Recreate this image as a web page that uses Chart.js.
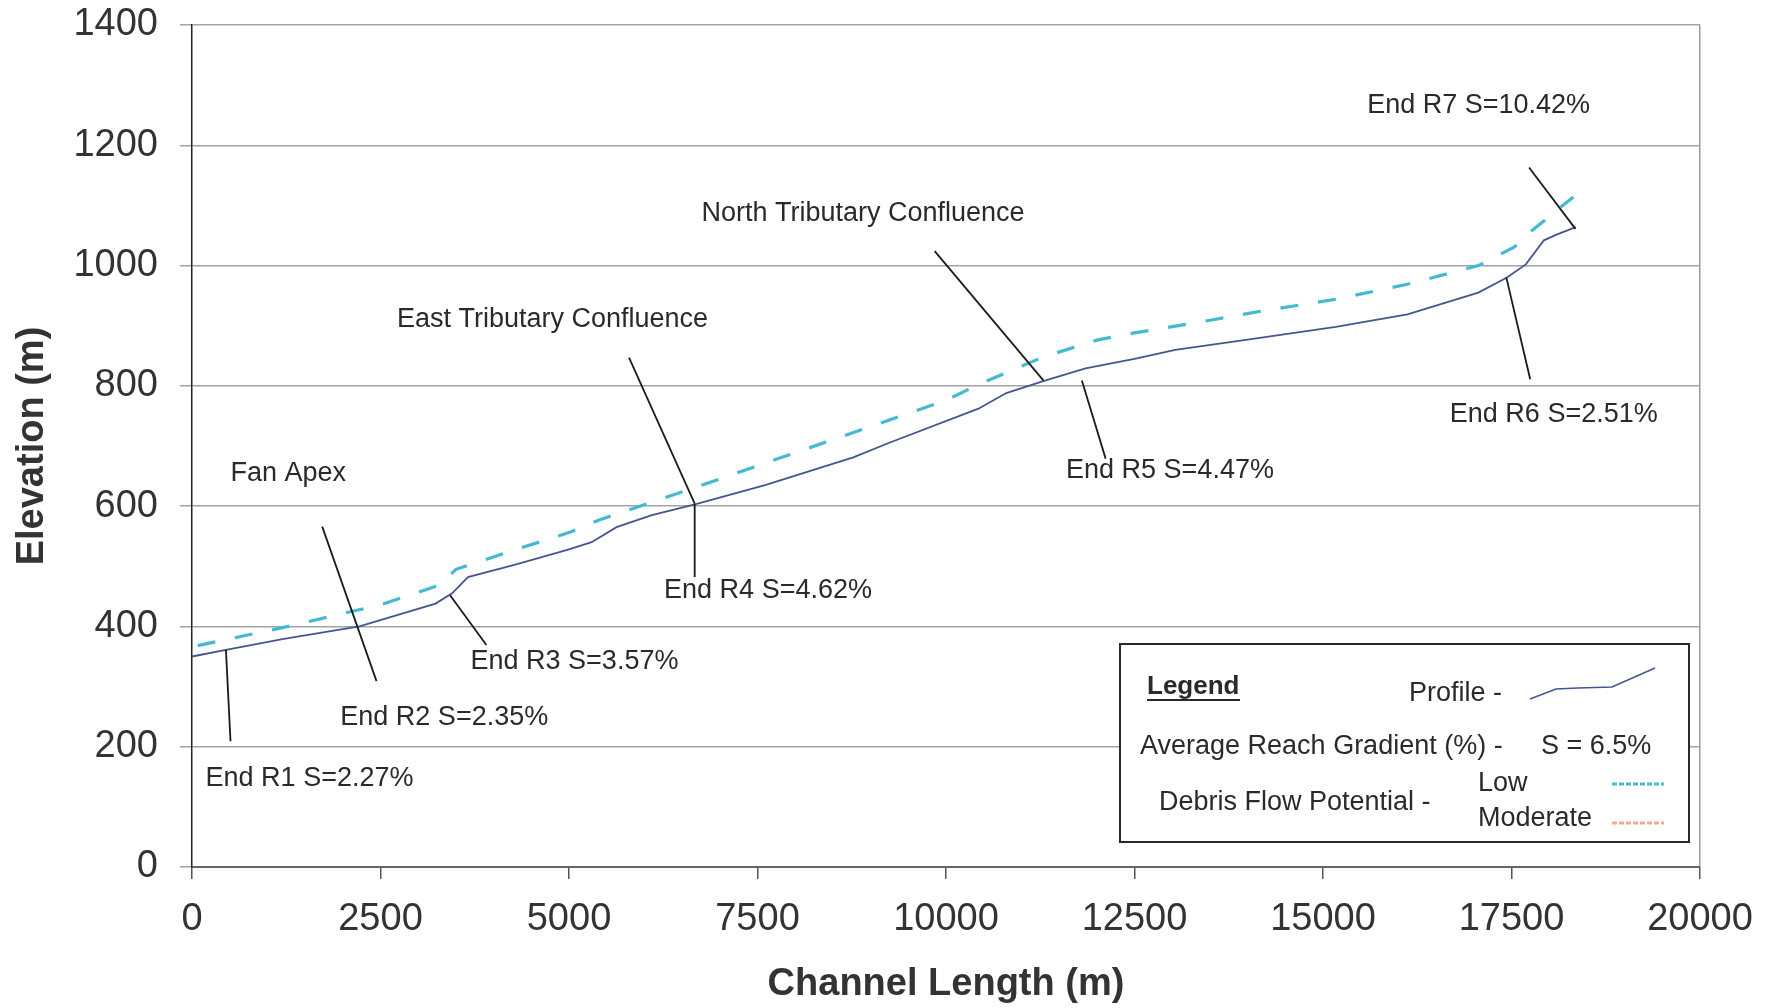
<!DOCTYPE html>
<html>
<head>
<meta charset="utf-8">
<title>Channel Profile</title>
<script src="https://cdn.jsdelivr.net/npm/chart.js@4.4.1/dist/chart.umd.min.js"></script>
<style>
  html, body { margin: 0; padding: 0; background: #fff; }
  #wrap { width: 1775px; height: 1008px; }
</style>
</head>
<body>
<div id="wrap"><canvas id="perfil" width="1775" height="1008"></canvas></div>
<script>
// surveyed channel profile: distance along channel (m) / elevation (m)
const profileX = [0, 450, 1200, 2220, 3230, 3450, 3660, 4300, 5000, 5300, 5630, 6100, 6670, 7600, 8770, 9240, 10430, 10800, 11290, 11850, 12500, 13040, 14000, 15170, 16120, 17060, 17440, 17690, 17930, 18090, 18350];
const profileY = [350, 361, 379, 400, 438, 455, 482, 503, 528, 540, 565, 585, 603, 635, 681, 705, 762, 788, 808, 829, 845, 860, 877, 898, 919, 955, 980, 1002, 1042, 1051, 1064];

// average reach gradient (low debris flow potential), dashed
const gradientX = [75, 1200, 2500, 3290, 3500, 4300, 5000, 5400, 6650, 10000, 10480, 11290, 12000, 12500, 13360, 14220, 15170, 16120, 17060, 17540, 17750, 18320];
const gradientY = [368, 398, 436, 469, 495, 528, 556, 577, 630, 776, 805, 848, 876, 888, 906, 925, 944, 969, 1000, 1031, 1056, 1114];

const xTicks = [0, 2500, 5000, 7500, 10000, 12500, 15000, 17500, 20000];
const yTicks = [0, 200, 400, 600, 800, 1000, 1200, 1400];

// leader lines in chart units: [x1, y1, x2, y2]
const leaders = [
  [450, 361, 511, 209],
  [1727, 566, 2447, 309],
  [3423, 452, 3904, 369],
  [5796, 847, 6667, 604],
  [6667, 604, 6667, 482],
  [9850, 1024, 11291, 809],
  [11802, 809, 12117, 679],
  [17432, 980, 17748, 811],
  [17733, 1163, 18348, 1061]
];

// annotation text in chart units: [text, x, y]
const notes = [
  ['End R7 S=10.42%', 15586, 1266],
  ['North Tributary Confluence', 6757, 1086],
  ['East Tributary Confluence', 2718, 911],
  ['Fan Apex', 511, 655],
  ['End R6 S=2.51%', 16682, 753],
  ['End R5 S=4.47%', 11592, 659],
  ['End R4 S=4.62%', 6261, 459],
  ['End R3 S=3.57%', 3694, 341],
  ['End R2 S=2.35%', 1967, 248],
  ['End R1 S=2.27%', 180, 147]
];

const FONT = '"Liberation Sans", Arial, sans-serif';
const PROFILE_COLOR = '#45558f';
const LOW_COLOR = '#45b9d3';
const MODERATE_COLOR = '#f2a88e';

const notesPlugin = {
  id: 'notes',
  afterDatasetsDraw(chart) {
    const { ctx, chartArea } = chart;
    const x = chart.scales.x, y = chart.scales.y;
    ctx.save();

    ctx.strokeStyle = '#1b1b1b';
    ctx.lineWidth = 1.8;
    leaders.forEach(([x1, y1, x2, y2]) => {
      ctx.beginPath();
      ctx.moveTo(x.getPixelForValue(x1), y.getPixelForValue(y1));
      ctx.lineTo(x.getPixelForValue(x2), y.getPixelForValue(y2));
      ctx.stroke();
    });

    ctx.fillStyle = '#2a2a2a';
    ctx.font = '27px ' + FONT;
    ctx.textBaseline = 'middle';
    ctx.textAlign = 'left';
    notes.forEach(([txt, nx, ny]) => {
      ctx.fillText(txt, x.getPixelForValue(nx), y.getPixelForValue(ny));
    });

    // legend box, lower right of the plot
    const L = chartArea.right - 580, T = chartArea.bottom - 223;
    ctx.fillStyle = '#fff';
    ctx.fillRect(L, T, 569, 198);
    ctx.strokeStyle = '#2a2a2a';
    ctx.lineWidth = 2;
    ctx.strokeRect(L, T, 569, 198);

    ctx.fillStyle = '#2a2a2a';
    ctx.font = 'bold 26px ' + FONT;
    ctx.fillText('Legend', L + 27, T + 43);
    ctx.beginPath();
    ctx.moveTo(L + 27, T + 56);
    ctx.lineTo(L + 120, T + 56);
    ctx.stroke();

    ctx.font = '27px ' + FONT;
    ctx.fillText('Profile -', L + 289, T + 50);
    ctx.fillText('Average Reach Gradient (%) -', L + 20, T + 103);
    ctx.fillText('S = 6.5%', L + 421, T + 103);
    ctx.fillText('Debris Flow Potential -', L + 39, T + 159);
    ctx.fillText('Low', L + 358, T + 140);
    ctx.fillText('Moderate', L + 358, T + 175);

    ctx.strokeStyle = PROFILE_COLOR;
    ctx.lineWidth = 1.6;
    ctx.beginPath();
    ctx.moveTo(L + 410, T + 55);
    ctx.lineTo(L + 436, T + 45);
    ctx.lineTo(L + 458, T + 44);
    ctx.lineTo(L + 492, T + 43);
    ctx.lineTo(L + 535, T + 24);
    ctx.stroke();

    ctx.lineWidth = 3;
    ctx.setLineDash([5, 2]);
    ctx.strokeStyle = LOW_COLOR;
    ctx.beginPath();
    ctx.moveTo(L + 492, T + 140);
    ctx.lineTo(L + 544, T + 140);
    ctx.stroke();
    ctx.strokeStyle = MODERATE_COLOR;
    ctx.beginPath();
    ctx.moveTo(L + 492, T + 179);
    ctx.lineTo(L + 544, T + 179);
    ctx.stroke();

    ctx.restore();
  }
};

const toPoints = (xs, ys) => xs.map((v, i) => ({ x: v, y: ys[i] }));

new Chart(document.getElementById('perfil'), {
  type: 'line',
  data: {
    datasets: [{
      label: 'Average Reach Gradient',
      data: toPoints(gradientX, gradientY),
      borderColor: LOW_COLOR,
      borderWidth: 3.2,
      borderDash: [18, 20],
      pointRadius: 0,
      tension: 0
    }, {
      label: 'Profile',
      data: toPoints(profileX, profileY),
      borderColor: PROFILE_COLOR,
      borderWidth: 1.8,
      pointRadius: 0,
      tension: 0
    }]
  },
  options: {
    responsive: false,
    animation: false,
    layout: { padding: { top: 25, right: 75, left: 0, bottom: 0 } },
    plugins: {
      legend: { display: false },
      tooltip: { enabled: false }
    },
    scales: {
      x: {
        type: 'linear',
        min: 0,
        max: 20000,
        afterBuildTicks: scale => { scale.ticks = xTicks.map(v => ({ value: v })); },
        afterFit: scale => { scale.height = 141; },
        ticks: {
          color: '#333',
          font: { family: FONT, size: 38 },
          padding: 18,
          maxRotation: 0,
          callback: v => String(v)
        },
        grid: {
          drawOnChartArea: true,
          color: c => (c.tick && c.tick.value === 20000) ? '#9a9a9a' : 'rgba(0,0,0,0)',
          lineWidth: 1.5,
          tickColor: '#555',
          tickLength: 12
        },
        border: { color: '#666', width: 2 },
        title: {
          display: true,
          text: 'Channel Length (m)',
          color: '#333',
          font: { family: FONT, size: 38, weight: 'bold' },
          padding: { top: 0, bottom: 1 }
        }
      },
      y: {
        min: 0,
        max: 1400,
        afterBuildTicks: scale => { scale.ticks = yTicks.map(v => ({ value: v })); },
        afterFit: scale => {
          scale.width = 192;
          // the top label may sit in the page margin
          scale.paddingTop = 0;
        },
        ticks: {
          color: '#333',
          font: { family: FONT, size: 38 },
          padding: 22,
          callback: v => String(v)
        },
        grid: {
          color: '#a3a3a3',
          lineWidth: 1.5,
          tickLength: 12
        },
        border: { color: '#222', width: 1.5 },
        title: {
          display: true,
          text: 'Elevation (m)',
          color: '#333',
          font: { family: FONT, size: 38, weight: 'bold' },
          padding: { top: 10, bottom: 0 }
        }
      }
    }
  },
  plugins: [notesPlugin]
});
</script>
</body>
</html>
